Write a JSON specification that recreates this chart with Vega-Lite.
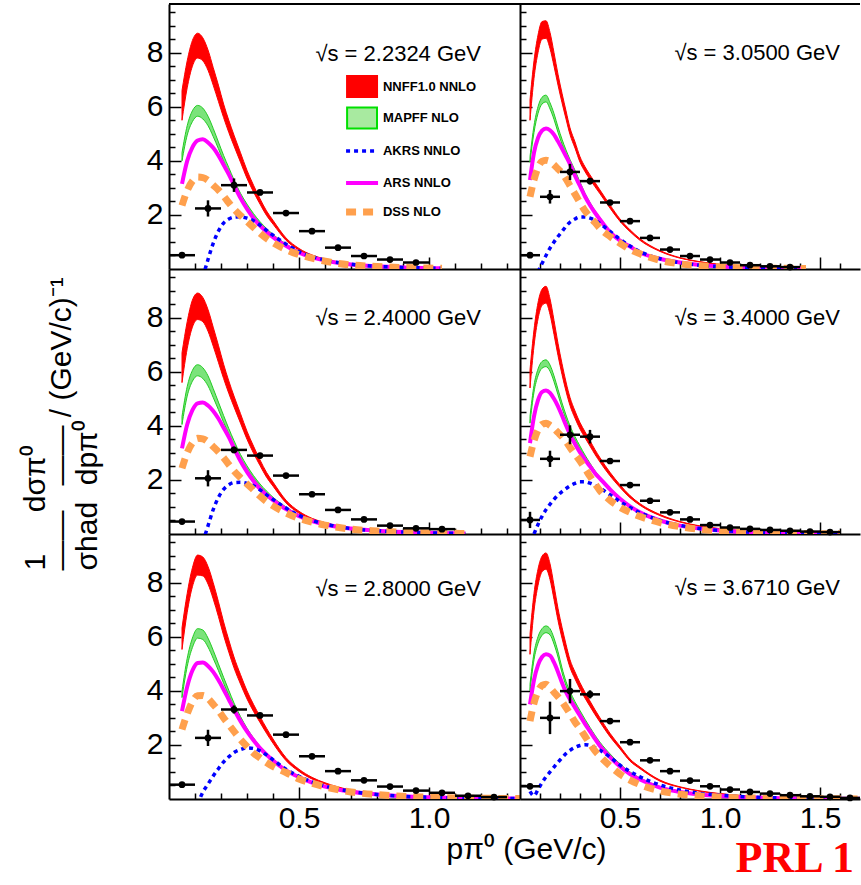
{
"$schema": "https://vega.github.io/schema/vega-lite/v6.json",
"padding": {"left": 20, "top": 3, "right": 0, "bottom": 0},
"background": "white",
"columns": 2,
"spacing": 0,
"bounds": "flush",
"align": "each",
"resolve": {"scale": {"x": "independent", "y": "independent"}, "axis": {"x": "independent", "y": "independent"}},
"datasets": {
"c": [
{"e":"2.2324","x":0.05,"nh":6.6,"nl":5.5,"mh":4.3,"ml":4.0,"a":null,"r":3.15,"d":2.35},
{"e":"2.2324","x":0.07,"nh":7.7,"nl":6.7,"mh":5.3,"ml":4.95,"a":null,"r":4.0,"d":2.9},
{"e":"2.2324","x":0.09,"nh":8.45,"nl":7.5,"mh":5.85,"ml":5.45,"a":null,"r":4.5,"d":3.25},
{"e":"2.2324","x":0.11,"nh":8.72,"nl":7.8,"mh":6.05,"ml":5.65,"a":null,"r":4.75,"d":3.4},
{"e":"2.2324","x":0.13,"nh":8.55,"nl":7.7,"mh":5.95,"ml":5.55,"a":-0.3,"r":4.8,"d":3.38},
{"e":"2.2324","x":0.15,"nh":8.1,"nl":7.35,"mh":5.65,"ml":5.3,"a":0.35,"r":4.68,"d":3.28},
{"e":"2.2324","x":0.17,"nh":7.45,"nl":6.8,"mh":5.2,"ml":4.9,"a":0.95,"r":4.48,"d":3.1},
{"e":"2.2324","x":0.19,"nh":6.8,"nl":6.2,"mh":4.7,"ml":4.45,"a":1.4,"r":4.2,"d":2.92},
{"e":"2.2324","x":0.21,"nh":6.1,"nl":5.6,"mh":4.2,"ml":3.98,"a":1.7,"r":3.85,"d":2.7},
{"e":"2.2324","x":0.23,"nh":5.5,"nl":5.05,"mh":3.75,"ml":3.55,"a":1.85,"r":3.5,"d":2.45},
{"e":"2.2324","x":0.25,"nh":4.95,"nl":4.55,"mh":3.3,"ml":3.15,"a":1.92,"r":3.1,"d":2.22},
{"e":"2.2324","x":0.275,"nh":4.3,"nl":3.95,"mh":2.8,"ml":2.68,"a":1.93,"r":2.62,"d":1.98},
{"e":"2.2324","x":0.3,"nh":3.65,"nl":3.35,"mh":2.4,"ml":2.3,"a":1.88,"r":2.22,"d":1.76},
{"e":"2.2324","x":0.325,"nh":3.1,"nl":2.85,"mh":2.05,"ml":1.96,"a":1.78,"r":1.88,"d":1.54},
{"e":"2.2324","x":0.35,"nh":2.6,"nl":2.4,"mh":1.75,"ml":1.68,"a":1.62,"r":1.6,"d":1.32},
{"e":"2.2324","x":0.375,"nh":2.15,"nl":1.98,"mh":1.5,"ml":1.44,"a":1.43,"r":1.38,"d":1.13},
{"e":"2.2324","x":0.4,"nh":1.8,"nl":1.66,"mh":1.28,"ml":1.23,"a":1.25,"r":1.18,"d":0.97},
{"e":"2.2324","x":0.45,"nh":1.15,"nl":1.06,"mh":0.93,"ml":0.89,"a":0.92,"r":0.86,"d":0.72},
{"e":"2.2324","x":0.5,"nh":0.76,"nl":0.7,"mh":0.65,"ml":0.62,"a":0.64,"r":0.6,"d":0.53},
{"e":"2.2324","x":0.55,"nh":0.52,"nl":0.48,"mh":0.46,"ml":0.44,"a":0.46,"r":0.43,"d":0.4},
{"e":"2.2324","x":0.6,"nh":0.37,"nl":0.34,"mh":0.33,"ml":0.32,"a":0.33,"r":0.31,"d":0.29},
{"e":"2.2324","x":0.7,"nh":0.2,"nl":0.18,"mh":0.18,"ml":0.17,"a":0.18,"r":0.17,"d":0.15},
{"e":"2.2324","x":0.8,"nh":0.11,"nl":0.1,"mh":0.1,"ml":0.095,"a":0.1,"r":0.1,"d":0.09},
{"e":"2.2324","x":0.9,"nh":0.065,"nl":0.06,"mh":0.06,"ml":0.055,"a":0.06,"r":0.06,"d":0.055},
{"e":"2.2324","x":1.0,"nh":0.04,"nl":0.035,"mh":0.035,"ml":0.03,"a":0.035,"r":0.035,"d":0.035},
{"e":"2.2324","x":1.05,"nh":0.03,"nl":0.025,"mh":0.025,"ml":0.02,"a":0.025,"r":0.025,"d":0.025},

{"e":"2.4000","x":0.05,"nh":6.7,"nl":5.6,"mh":4.35,"ml":4.05,"a":null,"r":3.17,"d":2.43},
{"e":"2.4000","x":0.07,"nh":7.85,"nl":6.85,"mh":5.45,"ml":5.1,"a":null,"r":4.05,"d":3.0},
{"e":"2.4000","x":0.09,"nh":8.65,"nl":7.65,"mh":6.05,"ml":5.65,"a":null,"r":4.58,"d":3.37},
{"e":"2.4000","x":0.11,"nh":8.91,"nl":7.93,"mh":6.26,"ml":5.85,"a":null,"r":4.83,"d":3.54},
{"e":"2.4000","x":0.13,"nh":8.75,"nl":7.85,"mh":6.15,"ml":5.75,"a":-0.3,"r":4.86,"d":3.52},
{"e":"2.4000","x":0.15,"nh":8.3,"nl":7.5,"mh":5.85,"ml":5.48,"a":0.3,"r":4.75,"d":3.41},
{"e":"2.4000","x":0.17,"nh":7.65,"nl":6.95,"mh":5.38,"ml":5.05,"a":0.9,"r":4.55,"d":3.23},
{"e":"2.4000","x":0.19,"nh":6.98,"nl":6.35,"mh":4.88,"ml":4.6,"a":1.35,"r":4.27,"d":3.04},
{"e":"2.4000","x":0.21,"nh":6.28,"nl":5.75,"mh":4.38,"ml":4.13,"a":1.65,"r":3.93,"d":2.82},
{"e":"2.4000","x":0.23,"nh":5.66,"nl":5.2,"mh":3.9,"ml":3.7,"a":1.82,"r":3.58,"d":2.57},
{"e":"2.4000","x":0.25,"nh":5.1,"nl":4.7,"mh":3.45,"ml":3.28,"a":1.9,"r":3.18,"d":2.33},
{"e":"2.4000","x":0.275,"nh":4.45,"nl":4.1,"mh":2.94,"ml":2.8,"a":1.91,"r":2.7,"d":2.08},
{"e":"2.4000","x":0.3,"nh":3.8,"nl":3.5,"mh":2.52,"ml":2.41,"a":1.87,"r":2.3,"d":1.85},
{"e":"2.4000","x":0.325,"nh":3.25,"nl":2.99,"mh":2.16,"ml":2.07,"a":1.78,"r":1.96,"d":1.63},
{"e":"2.4000","x":0.35,"nh":2.74,"nl":2.53,"mh":1.85,"ml":1.77,"a":1.63,"r":1.67,"d":1.4},
{"e":"2.4000","x":0.375,"nh":2.28,"nl":2.1,"mh":1.59,"ml":1.52,"a":1.45,"r":1.45,"d":1.2},
{"e":"2.4000","x":0.4,"nh":1.92,"nl":1.77,"mh":1.36,"ml":1.3,"a":1.28,"r":1.25,"d":1.04},
{"e":"2.4000","x":0.45,"nh":1.25,"nl":1.15,"mh":1.0,"ml":0.96,"a":0.96,"r":0.92,"d":0.78},
{"e":"2.4000","x":0.5,"nh":0.84,"nl":0.77,"mh":0.71,"ml":0.68,"a":0.69,"r":0.66,"d":0.58},
{"e":"2.4000","x":0.55,"nh":0.58,"nl":0.54,"mh":0.51,"ml":0.49,"a":0.5,"r":0.48,"d":0.44},
{"e":"2.4000","x":0.6,"nh":0.42,"nl":0.39,"mh":0.37,"ml":0.35,"a":0.37,"r":0.35,"d":0.33},
{"e":"2.4000","x":0.7,"nh":0.23,"nl":0.21,"mh":0.21,"ml":0.2,"a":0.2,"r":0.2,"d":0.18},
{"e":"2.4000","x":0.8,"nh":0.13,"nl":0.12,"mh":0.12,"ml":0.11,"a":0.12,"r":0.12,"d":0.11},
{"e":"2.4000","x":0.9,"nh":0.08,"nl":0.07,"mh":0.07,"ml":0.065,"a":0.07,"r":0.07,"d":0.065},
{"e":"2.4000","x":1.0,"nh":0.05,"nl":0.045,"mh":0.045,"ml":0.04,"a":0.045,"r":0.045,"d":0.04},
{"e":"2.4000","x":1.1,"nh":0.03,"nl":0.025,"mh":0.025,"ml":0.02,"a":0.025,"r":0.025,"d":0.025},
{"e":"2.4000","x":1.14,"nh":0.02,"nl":0.018,"mh":0.02,"ml":0.015,"a":0.02,"r":0.02,"d":0.02},

{"e":"2.8000","x":0.05,"nh":6.33,"nl":5.53,"mh":4.0,"ml":3.75,"a":null,"r":3.25,"d":2.57},
{"e":"2.8000","x":0.07,"nh":7.6,"nl":6.9,"mh":5.2,"ml":4.9,"a":null,"r":4.15,"d":3.15},
{"e":"2.8000","x":0.09,"nh":8.55,"nl":7.85,"mh":5.95,"ml":5.6,"a":null,"r":4.75,"d":3.6},
{"e":"2.8000","x":0.11,"nh":9.02,"nl":8.28,"mh":6.3,"ml":5.95,"a":-0.2,"r":5.03,"d":3.82},
{"e":"2.8000","x":0.13,"nh":8.95,"nl":8.25,"mh":6.25,"ml":5.9,"a":0.25,"r":5.05,"d":3.83},
{"e":"2.8000","x":0.15,"nh":8.6,"nl":7.95,"mh":5.95,"ml":5.62,"a":0.55,"r":4.92,"d":3.72},
{"e":"2.8000","x":0.17,"nh":8.0,"nl":7.4,"mh":5.5,"ml":5.2,"a":0.85,"r":4.7,"d":3.5},
{"e":"2.8000","x":0.19,"nh":7.3,"nl":6.75,"mh":5.0,"ml":4.75,"a":1.12,"r":4.4,"d":3.27},
{"e":"2.8000","x":0.21,"nh":6.55,"nl":6.05,"mh":4.5,"ml":4.28,"a":1.37,"r":4.05,"d":3.0},
{"e":"2.8000","x":0.23,"nh":5.88,"nl":5.43,"mh":4.02,"ml":3.83,"a":1.56,"r":3.68,"d":2.75},
{"e":"2.8000","x":0.25,"nh":5.25,"nl":4.85,"mh":3.55,"ml":3.39,"a":1.72,"r":3.31,"d":2.5},
{"e":"2.8000","x":0.275,"nh":4.6,"nl":4.25,"mh":3.05,"ml":2.92,"a":1.83,"r":2.88,"d":2.2},
{"e":"2.8000","x":0.3,"nh":4.0,"nl":3.7,"mh":2.62,"ml":2.51,"a":1.89,"r":2.5,"d":1.94},
{"e":"2.8000","x":0.325,"nh":3.5,"nl":3.24,"mh":2.26,"ml":2.17,"a":1.87,"r":2.17,"d":1.7},
{"e":"2.8000","x":0.35,"nh":3.05,"nl":2.83,"mh":1.95,"ml":1.87,"a":1.78,"r":1.88,"d":1.52},
{"e":"2.8000","x":0.375,"nh":2.62,"nl":2.43,"mh":1.7,"ml":1.63,"a":1.63,"r":1.64,"d":1.35},
{"e":"2.8000","x":0.4,"nh":2.22,"nl":2.06,"mh":1.48,"ml":1.42,"a":1.45,"r":1.42,"d":1.2},
{"e":"2.8000","x":0.45,"nh":1.53,"nl":1.42,"mh":1.1,"ml":1.06,"a":1.1,"r":1.06,"d":0.98},
{"e":"2.8000","x":0.5,"nh":1.1,"nl":1.02,"mh":0.83,"ml":0.8,"a":0.84,"r":0.81,"d":0.74},
{"e":"2.8000","x":0.55,"nh":0.8,"nl":0.74,"mh":0.62,"ml":0.6,"a":0.63,"r":0.61,"d":0.58},
{"e":"2.8000","x":0.6,"nh":0.6,"nl":0.56,"mh":0.47,"ml":0.45,"a":0.48,"r":0.46,"d":0.45},
{"e":"2.8000","x":0.7,"nh":0.33,"nl":0.31,"mh":0.28,"ml":0.27,"a":0.28,"r":0.27,"d":0.26},
{"e":"2.8000","x":0.8,"nh":0.19,"nl":0.18,"mh":0.17,"ml":0.16,"a":0.17,"r":0.17,"d":0.16},
{"e":"2.8000","x":0.9,"nh":0.12,"nl":0.11,"mh":0.1,"ml":0.1,"a":0.1,"r":0.1,"d":0.1},
{"e":"2.8000","x":1.0,"nh":0.075,"nl":0.07,"mh":0.065,"ml":0.06,"a":0.065,"r":0.065,"d":0.065},
{"e":"2.8000","x":1.1,"nh":0.05,"nl":0.045,"mh":0.045,"ml":0.04,"a":0.045,"r":0.045,"d":0.04},
{"e":"2.8000","x":1.2,"nh":0.03,"nl":0.028,"mh":0.03,"ml":0.025,"a":0.03,"r":0.03,"d":0.028},
{"e":"2.8000","x":1.35,"nh":0.02,"nl":0.018,"mh":0.02,"ml":0.015,"a":0.02,"r":0.02,"d":0.018},

{"e":"3.0500","x":0.05,"nh":6.25,"nl":5.5,"mh":4.15,"ml":3.95,"a":null,"r":3.29,"d":2.67},
{"e":"3.0500","x":0.07,"nh":7.7,"nl":7.05,"mh":5.3,"ml":5.05,"a":null,"r":4.3,"d":3.3},
{"e":"3.0500","x":0.09,"nh":8.65,"nl":8.0,"mh":6.0,"ml":5.75,"a":-0.1,"r":4.85,"d":3.75},
{"e":"3.0500","x":0.11,"nh":9.15,"nl":8.5,"mh":6.35,"ml":6.1,"a":0.2,"r":5.12,"d":3.98},
{"e":"3.0500","x":0.13,"nh":9.18,"nl":8.53,"mh":6.43,"ml":6.18,"a":0.5,"r":5.2,"d":4.02},
{"e":"3.0500","x":0.15,"nh":8.75,"nl":8.15,"mh":6.15,"ml":5.92,"a":0.77,"r":5.13,"d":3.98},
{"e":"3.0500","x":0.17,"nh":8.0,"nl":7.5,"mh":5.75,"ml":5.53,"a":1.0,"r":4.97,"d":3.85},
{"e":"3.0500","x":0.19,"nh":7.2,"nl":6.8,"mh":5.25,"ml":5.05,"a":1.2,"r":4.72,"d":3.7},
{"e":"3.0500","x":0.21,"nh":6.5,"nl":6.15,"mh":4.8,"ml":4.62,"a":1.38,"r":4.45,"d":3.55},
{"e":"3.0500","x":0.23,"nh":5.85,"nl":5.55,"mh":4.4,"ml":4.24,"a":1.58,"r":4.17,"d":3.33},
{"e":"3.0500","x":0.25,"nh":5.22,"nl":4.97,"mh":4.05,"ml":3.9,"a":1.73,"r":3.88,"d":3.08},
{"e":"3.0500","x":0.275,"nh":4.7,"nl":4.47,"mh":3.65,"ml":3.52,"a":1.85,"r":3.45,"d":2.77},
{"e":"3.0500","x":0.3,"nh":4.15,"nl":3.95,"mh":3.22,"ml":3.1,"a":1.92,"r":3.07,"d":2.45},
{"e":"3.0500","x":0.325,"nh":3.78,"nl":3.6,"mh":2.8,"ml":2.7,"a":1.92,"r":2.68,"d":2.15},
{"e":"3.0500","x":0.35,"nh":3.48,"nl":3.31,"mh":2.46,"ml":2.37,"a":1.88,"r":2.36,"d":1.92},
{"e":"3.0500","x":0.375,"nh":3.2,"nl":3.04,"mh":2.16,"ml":2.08,"a":1.8,"r":2.08,"d":1.72},
{"e":"3.0500","x":0.4,"nh":2.92,"nl":2.78,"mh":1.9,"ml":1.83,"a":1.68,"r":1.83,"d":1.5},
{"e":"3.0500","x":0.45,"nh":2.37,"nl":2.25,"mh":1.42,"ml":1.37,"a":1.39,"r":1.36,"d":1.2},
{"e":"3.0500","x":0.5,"nh":1.85,"nl":1.76,"mh":1.1,"ml":1.06,"a":1.1,"r":1.05,"d":0.95},
{"e":"3.0500","x":0.55,"nh":1.45,"nl":1.38,"mh":0.86,"ml":0.83,"a":0.85,"r":0.83,"d":0.72},
{"e":"3.0500","x":0.6,"nh":1.12,"nl":1.06,"mh":0.64,"ml":0.62,"a":0.64,"r":0.61,"d":0.56},
{"e":"3.0500","x":0.7,"nh":0.68,"nl":0.65,"mh":0.4,"ml":0.38,"a":0.38,"r":0.38,"d":0.32},
{"e":"3.0500","x":0.8,"nh":0.42,"nl":0.4,"mh":0.25,"ml":0.24,"a":0.23,"r":0.24,"d":0.19},
{"e":"3.0500","x":0.9,"nh":0.27,"nl":0.26,"mh":0.16,"ml":0.15,"a":0.14,"r":0.15,"d":0.12},
{"e":"3.0500","x":1.0,"nh":0.17,"nl":0.16,"mh":0.1,"ml":0.095,"a":0.09,"r":0.095,"d":0.08},
{"e":"3.0500","x":1.1,"nh":0.11,"nl":0.1,"mh":0.065,"ml":0.062,"a":0.06,"r":0.06,"d":0.05},
{"e":"3.0500","x":1.2,"nh":0.07,"nl":0.066,"mh":0.042,"ml":0.04,"a":0.04,"r":0.04,"d":0.035},
{"e":"3.0500","x":1.3,"nh":0.045,"nl":0.043,"mh":0.027,"ml":0.026,"a":0.025,"r":0.025,"d":0.025},
{"e":"3.0500","x":1.43,"nh":0.025,"nl":0.024,"mh":0.016,"ml":0.015,"a":0.015,"r":0.015,"d":0.015},

{"e":"3.4000","x":0.05,"nh":6.07,"nl":5.4,"mh":4.35,"ml":4.1,"a":null,"r":3.36,"d":2.86},
{"e":"3.4000","x":0.07,"nh":7.55,"nl":6.95,"mh":5.5,"ml":5.25,"a":0.0,"r":4.35,"d":3.45},
{"e":"3.4000","x":0.09,"nh":8.55,"nl":7.95,"mh":6.1,"ml":5.85,"a":0.35,"r":4.95,"d":3.85},
{"e":"3.4000","x":0.11,"nh":9.05,"nl":8.45,"mh":6.38,"ml":6.13,"a":0.65,"r":5.25,"d":4.05},
{"e":"3.4000","x":0.13,"nh":9.16,"nl":8.54,"mh":6.44,"ml":6.19,"a":0.9,"r":5.31,"d":4.1},
{"e":"3.4000","x":0.15,"nh":8.7,"nl":8.12,"mh":6.25,"ml":6.02,"a":1.1,"r":5.22,"d":4.02},
{"e":"3.4000","x":0.17,"nh":7.9,"nl":7.38,"mh":5.85,"ml":5.63,"a":1.28,"r":5.0,"d":3.9},
{"e":"3.4000","x":0.19,"nh":7.05,"nl":6.6,"mh":5.35,"ml":5.15,"a":1.44,"r":4.72,"d":3.75},
{"e":"3.4000","x":0.21,"nh":6.3,"nl":5.9,"mh":4.85,"ml":4.67,"a":1.57,"r":4.38,"d":3.6},
{"e":"3.4000","x":0.23,"nh":5.62,"nl":5.28,"mh":4.4,"ml":4.24,"a":1.68,"r":4.02,"d":3.42},
{"e":"3.4000","x":0.25,"nh":5.05,"nl":4.75,"mh":4.0,"ml":3.86,"a":1.78,"r":3.68,"d":3.2},
{"e":"3.4000","x":0.275,"nh":4.55,"nl":4.28,"mh":3.6,"ml":3.48,"a":1.87,"r":3.33,"d":2.95},
{"e":"3.4000","x":0.3,"nh":4.12,"nl":3.88,"mh":3.25,"ml":3.14,"a":1.93,"r":3.02,"d":2.7},
{"e":"3.4000","x":0.325,"nh":3.78,"nl":3.56,"mh":2.92,"ml":2.82,"a":1.93,"r":2.75,"d":2.42},
{"e":"3.4000","x":0.35,"nh":3.45,"nl":3.25,"mh":2.62,"ml":2.53,"a":1.88,"r":2.5,"d":2.13},
{"e":"3.4000","x":0.375,"nh":3.12,"nl":2.94,"mh":2.34,"ml":2.26,"a":1.8,"r":2.25,"d":1.86},
{"e":"3.4000","x":0.4,"nh":2.82,"nl":2.66,"mh":2.1,"ml":2.03,"a":1.7,"r":2.05,"d":1.6},
{"e":"3.4000","x":0.45,"nh":2.28,"nl":2.15,"mh":1.7,"ml":1.64,"a":1.45,"r":1.65,"d":1.25},
{"e":"3.4000","x":0.5,"nh":1.82,"nl":1.72,"mh":1.35,"ml":1.3,"a":1.2,"r":1.3,"d":0.99},
{"e":"3.4000","x":0.55,"nh":1.42,"nl":1.34,"mh":1.06,"ml":1.02,"a":0.98,"r":1.02,"d":0.8},
{"e":"3.4000","x":0.6,"nh":1.12,"nl":1.06,"mh":0.83,"ml":0.8,"a":0.79,"r":0.8,"d":0.65},
{"e":"3.4000","x":0.7,"nh":0.72,"nl":0.68,"mh":0.52,"ml":0.5,"a":0.5,"r":0.5,"d":0.42},
{"e":"3.4000","x":0.8,"nh":0.46,"nl":0.44,"mh":0.33,"ml":0.315,"a":0.32,"r":0.31,"d":0.27},
{"e":"3.4000","x":0.9,"nh":0.3,"nl":0.285,"mh":0.21,"ml":0.2,"a":0.2,"r":0.2,"d":0.17},
{"e":"3.4000","x":1.0,"nh":0.2,"nl":0.19,"mh":0.135,"ml":0.128,"a":0.13,"r":0.13,"d":0.11},
{"e":"3.4000","x":1.1,"nh":0.13,"nl":0.123,"mh":0.088,"ml":0.084,"a":0.085,"r":0.085,"d":0.07},
{"e":"3.4000","x":1.2,"nh":0.085,"nl":0.08,"mh":0.057,"ml":0.054,"a":0.055,"r":0.055,"d":0.045},
{"e":"3.4000","x":1.3,"nh":0.055,"nl":0.052,"mh":0.037,"ml":0.035,"a":0.035,"r":0.035,"d":0.03},
{"e":"3.4000","x":1.4,"nh":0.035,"nl":0.033,"mh":0.023,"ml":0.022,"a":0.022,"r":0.022,"d":0.02},
{"e":"3.4000","x":1.5,"nh":0.022,"nl":0.021,"mh":0.015,"ml":0.014,"a":0.014,"r":0.014,"d":0.013},
{"e":"3.4000","x":1.6,"nh":0.014,"nl":0.013,"mh":0.01,"ml":0.009,"a":0.009,"r":0.009,"d":0.009},

{"e":"3.6710","x":0.05,"nh":6.09,"nl":5.35,"mh":4.24,"ml":4.0,"a":0.28,"r":3.5,"d":2.88},
{"e":"3.6710","x":0.07,"nh":7.6,"nl":6.95,"mh":5.4,"ml":5.15,"a":0.12,"r":4.4,"d":3.55},
{"e":"3.6710","x":0.09,"nh":8.5,"nl":7.9,"mh":6.0,"ml":5.75,"a":0.35,"r":4.95,"d":3.98},
{"e":"3.6710","x":0.11,"nh":8.98,"nl":8.4,"mh":6.3,"ml":6.05,"a":0.6,"r":5.25,"d":4.2},
{"e":"3.6710","x":0.13,"nh":9.1,"nl":8.5,"mh":6.4,"ml":6.15,"a":0.82,"r":5.35,"d":4.24},
{"e":"3.6710","x":0.15,"nh":8.7,"nl":8.12,"mh":6.3,"ml":6.07,"a":1.0,"r":5.3,"d":4.12},
{"e":"3.6710","x":0.17,"nh":7.9,"nl":7.38,"mh":5.95,"ml":5.73,"a":1.18,"r":5.05,"d":3.95},
{"e":"3.6710","x":0.19,"nh":7.05,"nl":6.6,"mh":5.45,"ml":5.25,"a":1.36,"r":4.7,"d":3.78},
{"e":"3.6710","x":0.21,"nh":6.35,"nl":5.95,"mh":4.85,"ml":4.67,"a":1.52,"r":4.3,"d":3.6},
{"e":"3.6710","x":0.23,"nh":5.72,"nl":5.37,"mh":4.35,"ml":4.19,"a":1.68,"r":3.95,"d":3.38},
{"e":"3.6710","x":0.25,"nh":5.15,"nl":4.86,"mh":3.98,"ml":3.84,"a":1.8,"r":3.68,"d":3.15},
{"e":"3.6710","x":0.275,"nh":4.7,"nl":4.44,"mh":3.6,"ml":3.48,"a":1.91,"r":3.38,"d":2.85},
{"e":"3.6710","x":0.3,"nh":4.3,"nl":4.06,"mh":3.27,"ml":3.16,"a":1.98,"r":3.08,"d":2.6},
{"e":"3.6710","x":0.325,"nh":3.95,"nl":3.73,"mh":2.95,"ml":2.85,"a":2.01,"r":2.78,"d":2.32},
{"e":"3.6710","x":0.35,"nh":3.62,"nl":3.42,"mh":2.65,"ml":2.56,"a":1.98,"r":2.5,"d":2.04},
{"e":"3.6710","x":0.375,"nh":3.3,"nl":3.12,"mh":2.36,"ml":2.28,"a":1.9,"r":2.22,"d":1.78},
{"e":"3.6710","x":0.4,"nh":3.0,"nl":2.84,"mh":2.1,"ml":2.03,"a":1.8,"r":1.96,"d":1.58},
{"e":"3.6710","x":0.45,"nh":2.43,"nl":2.3,"mh":1.67,"ml":1.61,"a":1.55,"r":1.55,"d":1.22},
{"e":"3.6710","x":0.5,"nh":1.95,"nl":1.85,"mh":1.3,"ml":1.25,"a":1.25,"r":1.2,"d":0.92},
{"e":"3.6710","x":0.55,"nh":1.48,"nl":1.4,"mh":1.0,"ml":0.96,"a":1.02,"r":0.92,"d":0.7},
{"e":"3.6710","x":0.6,"nh":1.18,"nl":1.12,"mh":0.78,"ml":0.75,"a":0.82,"r":0.72,"d":0.53},
{"e":"3.6710","x":0.7,"nh":0.7,"nl":0.66,"mh":0.46,"ml":0.44,"a":0.52,"r":0.42,"d":0.3},
{"e":"3.6710","x":0.8,"nh":0.45,"nl":0.43,"mh":0.29,"ml":0.28,"a":0.33,"r":0.26,"d":0.18},
{"e":"3.6710","x":0.9,"nh":0.3,"nl":0.285,"mh":0.19,"ml":0.18,"a":0.21,"r":0.17,"d":0.11},
{"e":"3.6710","x":1.0,"nh":0.2,"nl":0.19,"mh":0.12,"ml":0.114,"a":0.14,"r":0.11,"d":0.07},
{"e":"3.6710","x":1.1,"nh":0.13,"nl":0.123,"mh":0.078,"ml":0.074,"a":0.09,"r":0.07,"d":0.045},
{"e":"3.6710","x":1.2,"nh":0.085,"nl":0.08,"mh":0.05,"ml":0.048,"a":0.06,"r":0.046,"d":0.03},
{"e":"3.6710","x":1.3,"nh":0.055,"nl":0.052,"mh":0.033,"ml":0.031,"a":0.04,"r":0.03,"d":0.02},
{"e":"3.6710","x":1.4,"nh":0.035,"nl":0.033,"mh":0.021,"ml":0.02,"a":0.025,"r":0.02,"d":0.013},
{"e":"3.6710","x":1.5,"nh":0.022,"nl":0.021,"mh":0.014,"ml":0.013,"a":0.016,"r":0.013,"d":0.009},
{"e":"3.6710","x":1.6,"nh":0.014,"nl":0.013,"mh":0.009,"ml":0.0085,"a":0.01,"r":0.009,"d":0.006},
{"e":"3.6710","x":1.7,"nh":0.009,"nl":0.008,"mh":0.006,"ml":0.0057,"a":0.007,"r":0.006,"d":0.004}
],
"d": [
{"e":"2.2324","x":0.05,"y":0.51,"xl":0.0,"xh":0.1,"yl":0.46,"yh":0.56},
{"e":"2.2324","x":0.15,"y":2.24,"xl":0.1,"xh":0.2,"yl":1.94,"yh":2.54},
{"e":"2.2324","x":0.25,"y":3.1,"xl":0.2,"xh":0.3,"yl":2.85,"yh":3.35},
{"e":"2.2324","x":0.35,"y":2.83,"xl":0.3,"xh":0.4,"yl":2.73,"yh":2.93},
{"e":"2.2324","x":0.45,"y":2.07,"xl":0.4,"xh":0.5,"yl":1.99,"yh":2.15},
{"e":"2.2324","x":0.55,"y":1.4,"xl":0.5,"xh":0.6,"yl":1.34,"yh":1.46},
{"e":"2.2324","x":0.65,"y":0.79,"xl":0.6,"xh":0.7,"yl":0.74,"yh":0.84},
{"e":"2.2324","x":0.75,"y":0.48,"xl":0.7,"xh":0.8,"yl":0.44,"yh":0.52},
{"e":"2.2324","x":0.85,"y":0.35,"xl":0.8,"xh":0.9,"yl":0.31,"yh":0.39},
{"e":"2.2324","x":0.95,"y":0.24,"xl":0.9,"xh":1.0,"yl":0.2,"yh":0.28},
{"e":"2.4000","x":0.05,"y":0.46,"xl":0.0,"xh":0.1,"yl":0.41,"yh":0.51},
{"e":"2.4000","x":0.15,"y":2.06,"xl":0.1,"xh":0.2,"yl":1.76,"yh":2.36},
{"e":"2.4000","x":0.25,"y":3.11,"xl":0.2,"xh":0.3,"yl":2.99,"yh":3.23},
{"e":"2.4000","x":0.35,"y":2.9,"xl":0.3,"xh":0.4,"yl":2.8,"yh":3.0},
{"e":"2.4000","x":0.45,"y":2.16,"xl":0.4,"xh":0.5,"yl":2.08,"yh":2.24},
{"e":"2.4000","x":0.55,"y":1.47,"xl":0.5,"xh":0.6,"yl":1.41,"yh":1.53},
{"e":"2.4000","x":0.65,"y":0.89,"xl":0.6,"xh":0.7,"yl":0.84,"yh":0.94},
{"e":"2.4000","x":0.75,"y":0.54,"xl":0.7,"xh":0.8,"yl":0.5,"yh":0.58},
{"e":"2.4000","x":0.85,"y":0.31,"xl":0.8,"xh":0.9,"yl":0.27,"yh":0.35},
{"e":"2.4000","x":0.95,"y":0.21,"xl":0.9,"xh":1.0,"yl":0.17,"yh":0.25},
{"e":"2.4000","x":1.05,"y":0.18,"xl":1.0,"xh":1.1,"yl":0.14,"yh":0.22},
{"e":"2.8000","x":0.05,"y":0.53,"xl":0.0,"xh":0.1,"yl":0.48,"yh":0.58},
{"e":"2.8000","x":0.15,"y":2.26,"xl":0.1,"xh":0.2,"yl":1.96,"yh":2.56},
{"e":"2.8000","x":0.25,"y":3.31,"xl":0.2,"xh":0.3,"yl":3.16,"yh":3.46},
{"e":"2.8000","x":0.35,"y":3.09,"xl":0.3,"xh":0.4,"yl":2.99,"yh":3.19},
{"e":"2.8000","x":0.45,"y":2.38,"xl":0.4,"xh":0.5,"yl":2.3,"yh":2.46},
{"e":"2.8000","x":0.55,"y":1.58,"xl":0.5,"xh":0.6,"yl":1.52,"yh":1.64},
{"e":"2.8000","x":0.65,"y":1.03,"xl":0.6,"xh":0.7,"yl":0.98,"yh":1.08},
{"e":"2.8000","x":0.75,"y":0.69,"xl":0.7,"xh":0.8,"yl":0.65,"yh":0.73},
{"e":"2.8000","x":0.85,"y":0.46,"xl":0.8,"xh":0.9,"yl":0.42,"yh":0.5},
{"e":"2.8000","x":0.95,"y":0.31,"xl":0.9,"xh":1.0,"yl":0.27,"yh":0.35},
{"e":"2.8000","x":1.05,"y":0.23,"xl":1.0,"xh":1.1,"yl":0.19,"yh":0.27},
{"e":"2.8000","x":1.15,"y":0.12,"xl":1.1,"xh":1.2,"yl":0.08,"yh":0.16},
{"e":"2.8000","x":1.25,"y":0.07,"xl":1.2,"xh":1.3,"yl":0.03,"yh":0.11},
{"e":"3.0500","x":0.05,"y":0.51,"xl":0.0,"xh":0.1,"yl":0.46,"yh":0.56},
{"e":"3.0500","x":0.15,"y":2.67,"xl":0.1,"xh":0.2,"yl":2.42,"yh":2.92},
{"e":"3.0500","x":0.25,"y":3.59,"xl":0.2,"xh":0.3,"yl":3.29,"yh":3.89},
{"e":"3.0500","x":0.35,"y":3.25,"xl":0.3,"xh":0.4,"yl":3.13,"yh":3.37},
{"e":"3.0500","x":0.45,"y":2.46,"xl":0.4,"xh":0.5,"yl":2.38,"yh":2.54},
{"e":"3.0500","x":0.55,"y":1.77,"xl":0.5,"xh":0.6,"yl":1.71,"yh":1.83},
{"e":"3.0500","x":0.65,"y":1.15,"xl":0.6,"xh":0.7,"yl":1.1,"yh":1.2},
{"e":"3.0500","x":0.75,"y":0.72,"xl":0.7,"xh":0.8,"yl":0.68,"yh":0.76},
{"e":"3.0500","x":0.85,"y":0.48,"xl":0.8,"xh":0.9,"yl":0.44,"yh":0.52},
{"e":"3.0500","x":0.95,"y":0.35,"xl":0.9,"xh":1.0,"yl":0.31,"yh":0.39},
{"e":"3.0500","x":1.05,"y":0.24,"xl":1.0,"xh":1.1,"yl":0.2,"yh":0.28},
{"e":"3.0500","x":1.15,"y":0.14,"xl":1.1,"xh":1.2,"yl":0.1,"yh":0.18},
{"e":"3.0500","x":1.25,"y":0.1,"xl":1.2,"xh":1.3,"yl":0.06,"yh":0.14},
{"e":"3.0500","x":1.35,"y":0.07,"xl":1.3,"xh":1.4,"yl":0.03,"yh":0.11},
{"e":"3.4000","x":0.05,"y":0.52,"xl":0.0,"xh":0.1,"yl":0.22,"yh":0.82},
{"e":"3.4000","x":0.15,"y":2.78,"xl":0.1,"xh":0.2,"yl":2.48,"yh":3.08},
{"e":"3.4000","x":0.25,"y":3.67,"xl":0.2,"xh":0.3,"yl":3.32,"yh":4.02},
{"e":"3.4000","x":0.35,"y":3.6,"xl":0.3,"xh":0.4,"yl":3.35,"yh":3.85},
{"e":"3.4000","x":0.45,"y":2.7,"xl":0.4,"xh":0.5,"yl":2.6,"yh":2.8},
{"e":"3.4000","x":0.55,"y":1.81,"xl":0.5,"xh":0.6,"yl":1.73,"yh":1.89},
{"e":"3.4000","x":0.65,"y":1.23,"xl":0.6,"xh":0.7,"yl":1.17,"yh":1.29},
{"e":"3.4000","x":0.75,"y":0.8,"xl":0.7,"xh":0.8,"yl":0.75,"yh":0.85},
{"e":"3.4000","x":0.85,"y":0.54,"xl":0.8,"xh":0.9,"yl":0.5,"yh":0.58},
{"e":"3.4000","x":0.95,"y":0.33,"xl":0.9,"xh":1.0,"yl":0.29,"yh":0.37},
{"e":"3.4000","x":1.05,"y":0.24,"xl":1.0,"xh":1.1,"yl":0.2,"yh":0.28},
{"e":"3.4000","x":1.15,"y":0.19,"xl":1.1,"xh":1.2,"yl":0.15,"yh":0.23},
{"e":"3.4000","x":1.25,"y":0.15,"xl":1.2,"xh":1.3,"yl":0.11,"yh":0.19},
{"e":"3.4000","x":1.35,"y":0.12,"xl":1.3,"xh":1.4,"yl":0.08,"yh":0.16},
{"e":"3.4000","x":1.45,"y":0.09,"xl":1.4,"xh":1.5,"yl":0.05,"yh":0.13},
{"e":"3.4000","x":1.55,"y":0.07,"xl":1.5,"xh":1.6,"yl":0.03,"yh":0.11},
{"e":"3.6710","x":0.05,"y":0.47,"xl":0.0,"xh":0.1,"yl":0.37,"yh":0.57},
{"e":"3.6710","x":0.15,"y":3.0,"xl":0.1,"xh":0.2,"yl":2.4,"yh":3.6},
{"e":"3.6710","x":0.25,"y":3.99,"xl":0.2,"xh":0.3,"yl":3.54,"yh":4.44},
{"e":"3.6710","x":0.35,"y":3.87,"xl":0.3,"xh":0.4,"yl":3.72,"yh":4.02},
{"e":"3.6710","x":0.45,"y":2.88,"xl":0.4,"xh":0.5,"yl":2.78,"yh":2.98},
{"e":"3.6710","x":0.55,"y":2.1,"xl":0.5,"xh":0.6,"yl":2.02,"yh":2.18},
{"e":"3.6710","x":0.65,"y":1.43,"xl":0.6,"xh":0.7,"yl":1.37,"yh":1.49},
{"e":"3.6710","x":0.75,"y":1.03,"xl":0.7,"xh":0.8,"yl":0.98,"yh":1.08},
{"e":"3.6710","x":0.85,"y":0.68,"xl":0.8,"xh":0.9,"yl":0.64,"yh":0.72},
{"e":"3.6710","x":0.95,"y":0.47,"xl":0.9,"xh":1.0,"yl":0.43,"yh":0.51},
{"e":"3.6710","x":1.05,"y":0.35,"xl":1.0,"xh":1.1,"yl":0.31,"yh":0.39},
{"e":"3.6710","x":1.15,"y":0.26,"xl":1.1,"xh":1.2,"yl":0.22,"yh":0.3},
{"e":"3.6710","x":1.25,"y":0.2,"xl":1.2,"xh":1.3,"yl":0.16,"yh":0.24},
{"e":"3.6710","x":1.35,"y":0.14,"xl":1.3,"xh":1.4,"yl":0.1,"yh":0.18},
{"e":"3.6710","x":1.45,"y":0.1,"xl":1.4,"xh":1.5,"yl":0.06,"yh":0.14},
{"e":"3.6710","x":1.55,"y":0.08,"xl":1.5,"xh":1.6,"yl":0.04,"yh":0.12},
{"e":"3.6710","x":1.65,"y":0.04,"xl":1.6,"xh":1.7,"yl":0.0,"yh":0.08}
]
},
"concat": [
{
 "width": 351, "height": 265,
 "resolve": {"axis": {"x": "independent", "y": "independent"}},
 "layer": [
  {"data":{"name":"c"},"transform":[{"filter":"datum.e == '2.2324'"}],
   "mark":{"type":"area","interpolate":"monotone","clip":true,"stroke":"#ff0000","strokeWidth":1,"fill":"#ff0000"},
   "encoding":{
    "x":{"field":"x","type":"quantitative","scale":{"domain":[0,1.35],"nice":false,"zero":false},
     "axis":{"orient":"bottom","values":[0.5,1],"labels":false,"title":null,"tickSize":-12}},
    "y":{"field":"nh","type":"quantitative","scale":{"domain":[0,9.8],"nice":false,"zero":false},
     "axis":{"orient":"left","values":[2,4,6,8],"title":null,"tickSize":-12,"format":"d","labelPadding":18}},
    "y2":{"field":"nl"}}},
  {"data":{"name":"c"},"transform":[{"filter":"datum.e == '2.2324'"}],
   "mark":{"type":"area","interpolate":"monotone","clip":true,"stroke":"#22cc22","strokeWidth":1,"fill":"#7be37b"},
   "encoding":{"x":{"field":"x","type":"quantitative","scale":{"domain":[0,1.35],"nice":false,"zero":false},
     "axis":{"orient":"bottom","values":[0.1,0.2,0.3,0.4,0.6,0.7,0.8,0.9,1.1,1.2,1.3],"labels":false,"title":null,"tickSize":-6,"domain":false}},
    "y":{"field":"mh","type":"quantitative","scale":{"domain":[0,9.8],"nice":false,"zero":false},
     "axis":{"orient":"left","values":[0.5,1,1.5,2.5,3,3.5,4.5,5,5.5,6.5,7,7.5,8.5,9,9.5],"labels":false,"title":null,"tickSize":-6,"domain":false}},"y2":{"field":"ml"}}},
  {"data":{"name":"c"},"transform":[{"filter":"datum.e == '2.2324'"}],
   "mark":{"type":"line","interpolate":"monotone","clip":true,"strokeWidth":4,"color":"#ff00ff"},
   "encoding":{"x":{"field":"x","type":"quantitative","scale":{"domain":[0,1.35],"nice":false,"zero":false},"axis":null},
    "y":{"field":"r","type":"quantitative","scale":{"domain":[0,9.8],"nice":false,"zero":false},"axis":null}}},
  {"data":{"name":"c"},"transform":[{"filter":"datum.e == '2.2324'"}],
   "mark":{"type":"line","interpolate":"monotone","clip":true,"strokeWidth":3.5,"strokeDash":[4,4],"color":"#0000ff"},
   "encoding":{"x":{"field":"x","type":"quantitative","scale":{"domain":[0,1.35],"nice":false,"zero":false},"axis":null},
    "y":{"field":"a","type":"quantitative","scale":{"domain":[0,9.8],"nice":false,"zero":false},"axis":null}}},
  {"data":{"name":"c"},"transform":[{"filter":"datum.e == '2.2324'"}],
   "mark":{"type":"line","interpolate":"monotone","clip":true,"strokeWidth":7,"strokeDash":[10,7],"color":"#ffa04d"},
   "encoding":{"x":{"field":"x","type":"quantitative","scale":{"domain":[0,1.35],"nice":false,"zero":false},"axis":null},
    "y":{"field":"d","type":"quantitative","scale":{"domain":[0,9.8],"nice":false,"zero":false},"axis":null}}},
  {"data":{"name":"d"},"transform":[{"filter":"datum.e == '2.2324'"}],
   "mark":{"type":"rule","color":"black","strokeWidth":2.5},
   "encoding":{"x":{"field":"xl","type":"quantitative","scale":{"domain":[0,1.35],"nice":false,"zero":false},"axis":null},"x2":{"field":"xh"},
    "y":{"field":"y","type":"quantitative","scale":{"domain":[0,9.8],"nice":false,"zero":false},"axis":null}}},
  {"data":{"name":"d"},"transform":[{"filter":"datum.e == '2.2324'"}],
   "mark":{"type":"rule","color":"black","strokeWidth":2.5},
   "encoding":{"x":{"field":"x","type":"quantitative","scale":{"domain":[0,1.35],"nice":false,"zero":false},"axis":null},
    "y":{"field":"yl","type":"quantitative","scale":{"domain":[0,9.8],"nice":false,"zero":false},"axis":null},"y2":{"field":"yh"}}},
  {"data":{"name":"d"},"transform":[{"filter":"datum.e == '2.2324'"}],
   "mark":{"type":"circle","size":45,"color":"black","opacity":1},
   "encoding":{"x":{"field":"x","type":"quantitative","scale":{"domain":[0,1.35],"nice":false,"zero":false},"axis":null},
    "y":{"field":"y","type":"quantitative","scale":{"domain":[0,9.8],"nice":false,"zero":false},"axis":null}}},
  {"data":{"values":[{"t":"√s = 2.2324 GeV"}]},
   "mark":{"type":"text","align":"right","baseline":"middle","fontSize":22,"font":"Liberation Sans","color":"black"},
   "encoding":{"text":{"field":"t"},"x":{"datum":1.2,"type":"quantitative","scale":{"domain":[0,1.35],"nice":false,"zero":false},"axis":null},
    "y":{"datum":7.95,"type":"quantitative","scale":{"domain":[0,9.8],"nice":false,"zero":false},"axis":null}}},
  {"data":{"values":[{}]},"mark":{"type":"rect","fill":"#ff0000"},
   "encoding":{"x":{"datum":0.681,"type":"quantitative","scale":{"domain":[0,1.35],"nice":false,"zero":false},"axis":null},"x2":{"datum":0.804},
    "y":{"datum":7.17,"type":"quantitative","scale":{"domain":[0,9.8],"nice":false,"zero":false},"axis":null},"y2":{"datum":6.32}}},
  {"data":{"values":[{}]},"mark":{"type":"rect","fill":"#a8eaa0","stroke":"#00e000","strokeWidth":2},
   "encoding":{"x":{"datum":0.685,"type":"quantitative","scale":{"domain":[0,1.35],"nice":false,"zero":false},"axis":null},"x2":{"datum":0.8},
    "y":{"datum":5.97,"type":"quantitative","scale":{"domain":[0,9.8],"nice":false,"zero":false},"axis":null},"y2":{"datum":5.2}}},
  {"data":{"values":[{}]},"mark":{"type":"rule","color":"#0000ff","strokeWidth":3.5,"strokeDash":[4,4]},
   "encoding":{"x":{"datum":0.681,"type":"quantitative","scale":{"domain":[0,1.35],"nice":false,"zero":false},"axis":null},"x2":{"datum":0.804},
    "y":{"datum":4.36,"type":"quantitative","scale":{"domain":[0,9.8],"nice":false,"zero":false},"axis":null}}},
  {"data":{"values":[{}]},"mark":{"type":"rule","color":"#ff00ff","strokeWidth":4},
   "encoding":{"x":{"datum":0.681,"type":"quantitative","scale":{"domain":[0,1.35],"nice":false,"zero":false},"axis":null},"x2":{"datum":0.804},
    "y":{"datum":3.18,"type":"quantitative","scale":{"domain":[0,9.8],"nice":false,"zero":false},"axis":null}}},
  {"data":{"values":[{}]},"mark":{"type":"rule","color":"#ffa04d","strokeWidth":7,"strokeDash":[10,7]},
   "encoding":{"x":{"datum":0.681,"type":"quantitative","scale":{"domain":[0,1.35],"nice":false,"zero":false},"axis":null},"x2":{"datum":0.804},
    "y":{"datum":2.11,"type":"quantitative","scale":{"domain":[0,9.8],"nice":false,"zero":false},"axis":null}}},
  {"data":{"values":[{"t":"NNFF1.0 NNLO"}]},"mark":{"type":"text","align":"left","baseline":"middle","fontSize":13,"fontWeight":"bold","font":"Liberation Sans","color":"black"},
   "encoding":{"text":{"field":"t"},"x":{"datum":0.823,"type":"quantitative","scale":{"domain":[0,1.35],"nice":false,"zero":false},"axis":null},
    "y":{"datum":6.73,"type":"quantitative","scale":{"domain":[0,9.8],"nice":false,"zero":false},"axis":null}}},
  {"data":{"values":[{"t":"MAPFF NLO"}]},"mark":{"type":"text","align":"left","baseline":"middle","fontSize":13,"fontWeight":"bold","font":"Liberation Sans","color":"black"},
   "encoding":{"text":{"field":"t"},"x":{"datum":0.823,"type":"quantitative","scale":{"domain":[0,1.35],"nice":false,"zero":false},"axis":null},
    "y":{"datum":5.58,"type":"quantitative","scale":{"domain":[0,9.8],"nice":false,"zero":false},"axis":null}}},
  {"data":{"values":[{"t":"AKRS NNLO"}]},"mark":{"type":"text","align":"left","baseline":"middle","fontSize":13,"fontWeight":"bold","font":"Liberation Sans","color":"black"},
   "encoding":{"text":{"field":"t"},"x":{"datum":0.823,"type":"quantitative","scale":{"domain":[0,1.35],"nice":false,"zero":false},"axis":null},
    "y":{"datum":4.36,"type":"quantitative","scale":{"domain":[0,9.8],"nice":false,"zero":false},"axis":null}}},
  {"data":{"values":[{"t":"ARS NNLO"}]},"mark":{"type":"text","align":"left","baseline":"middle","fontSize":13,"fontWeight":"bold","font":"Liberation Sans","color":"black"},
   "encoding":{"text":{"field":"t"},"x":{"datum":0.823,"type":"quantitative","scale":{"domain":[0,1.35],"nice":false,"zero":false},"axis":null},
    "y":{"datum":3.18,"type":"quantitative","scale":{"domain":[0,9.8],"nice":false,"zero":false},"axis":null}}},
  {"data":{"values":[{"t":"DSS  NLO"}]},"mark":{"type":"text","align":"left","baseline":"middle","fontSize":13,"fontWeight":"bold","font":"Liberation Sans","color":"black"},
   "encoding":{"text":{"field":"t"},"x":{"datum":0.823,"type":"quantitative","scale":{"domain":[0,1.35],"nice":false,"zero":false},"axis":null},
    "y":{"datum":2.11,"type":"quantitative","scale":{"domain":[0,9.8],"nice":false,"zero":false},"axis":null}}},
  {"data":{"values":[{}]},"mark":{"type":"rule","color":"black","strokeWidth":2},
   "encoding":{"y":{"datum":9.8,"type":"quantitative","scale":{"domain":[0,9.8],"nice":false,"zero":false},"axis":null}}}
 ]
},
{
 "width": 340, "height": 265,
 "resolve": {"axis": {"x": "independent", "y": "independent"}},
 "layer": [
  {"data":{"name":"c"},"transform":[{"filter":"datum.e == '3.0500'"}],
   "mark":{"type":"area","interpolate":"monotone","clip":true,"stroke":"#ff0000","strokeWidth":1,"fill":"#ff0000"},
   "encoding":{
    "x":{"field":"x","type":"quantitative","scale":{"domain":[0,1.7],"nice":false,"zero":false},
     "axis":{"orient":"bottom","values":[0.5,1,1.5],"labels":false,"title":null,"tickSize":-12}},
    "y":{"field":"nh","type":"quantitative","scale":{"domain":[0,9.8],"nice":false,"zero":false},
     "axis":{"orient":"left","values":[2,4,6,8],"title":null,"labels":false,"tickSize":-12}},
    "y2":{"field":"nl"}}},
  {"data":{"name":"c"},"transform":[{"filter":"datum.e == '3.0500'"}],
   "mark":{"type":"area","interpolate":"monotone","clip":true,"stroke":"#22cc22","strokeWidth":1,"fill":"#7be37b"},
   "encoding":{"x":{"field":"x","type":"quantitative","scale":{"domain":[0,1.7],"nice":false,"zero":false},
     "axis":{"orient":"bottom","values":[0.1,0.2,0.3,0.4,0.6,0.7,0.8,0.9,1.1,1.2,1.3,1.4,1.6],"labels":false,"title":null,"tickSize":-6,"domain":false}},
    "y":{"field":"mh","type":"quantitative","scale":{"domain":[0,9.8],"nice":false,"zero":false},
     "axis":{"orient":"left","values":[0.5,1,1.5,2.5,3,3.5,4.5,5,5.5,6.5,7,7.5,8.5,9,9.5],"labels":false,"title":null,"tickSize":-6,"domain":false}},"y2":{"field":"ml"}}},
  {"data":{"name":"c"},"transform":[{"filter":"datum.e == '3.0500'"}],
   "mark":{"type":"line","interpolate":"monotone","clip":true,"strokeWidth":4,"color":"#ff00ff"},
   "encoding":{"x":{"field":"x","type":"quantitative","scale":{"domain":[0,1.7],"nice":false,"zero":false},"axis":null},
    "y":{"field":"r","type":"quantitative","scale":{"domain":[0,9.8],"nice":false,"zero":false},"axis":null}}},
  {"data":{"name":"c"},"transform":[{"filter":"datum.e == '3.0500'"}],
   "mark":{"type":"line","interpolate":"monotone","clip":true,"strokeWidth":3.5,"strokeDash":[4,4],"color":"#0000ff"},
   "encoding":{"x":{"field":"x","type":"quantitative","scale":{"domain":[0,1.7],"nice":false,"zero":false},"axis":null},
    "y":{"field":"a","type":"quantitative","scale":{"domain":[0,9.8],"nice":false,"zero":false},"axis":null}}},
  {"data":{"name":"c"},"transform":[{"filter":"datum.e == '3.0500'"}],
   "mark":{"type":"line","interpolate":"monotone","clip":true,"strokeWidth":7,"strokeDash":[10,7],"color":"#ffa04d"},
   "encoding":{"x":{"field":"x","type":"quantitative","scale":{"domain":[0,1.7],"nice":false,"zero":false},"axis":null},
    "y":{"field":"d","type":"quantitative","scale":{"domain":[0,9.8],"nice":false,"zero":false},"axis":null}}},
  {"data":{"name":"d"},"transform":[{"filter":"datum.e == '3.0500'"}],
   "mark":{"type":"rule","color":"black","strokeWidth":2.5},
   "encoding":{"x":{"field":"xl","type":"quantitative","scale":{"domain":[0,1.7],"nice":false,"zero":false},"axis":null},"x2":{"field":"xh"},
    "y":{"field":"y","type":"quantitative","scale":{"domain":[0,9.8],"nice":false,"zero":false},"axis":null}}},
  {"data":{"name":"d"},"transform":[{"filter":"datum.e == '3.0500'"}],
   "mark":{"type":"rule","color":"black","strokeWidth":2.5},
   "encoding":{"x":{"field":"x","type":"quantitative","scale":{"domain":[0,1.7],"nice":false,"zero":false},"axis":null},
    "y":{"field":"yl","type":"quantitative","scale":{"domain":[0,9.8],"nice":false,"zero":false},"axis":null},"y2":{"field":"yh"}}},
  {"data":{"name":"d"},"transform":[{"filter":"datum.e == '3.0500'"}],
   "mark":{"type":"circle","size":45,"color":"black","opacity":1},
   "encoding":{"x":{"field":"x","type":"quantitative","scale":{"domain":[0,1.7],"nice":false,"zero":false},"axis":null},
    "y":{"field":"y","type":"quantitative","scale":{"domain":[0,9.8],"nice":false,"zero":false},"axis":null}}},
  {"data":{"values":[{"t":"√s = 3.0500 GeV"}]},
   "mark":{"type":"text","align":"right","baseline":"middle","fontSize":22,"font":"Liberation Sans","color":"black"},
   "encoding":{"text":{"field":"t"},"x":{"datum":1.6,"type":"quantitative","scale":{"domain":[0,1.7],"nice":false,"zero":false},"axis":null},
    "y":{"datum":7.99,"type":"quantitative","scale":{"domain":[0,9.8],"nice":false,"zero":false},"axis":null}}},
  {"data":{"values":[{}]},"mark":{"type":"rule","color":"black","strokeWidth":2},
   "encoding":{"y":{"datum":9.8,"type":"quantitative","scale":{"domain":[0,9.8],"nice":false,"zero":false},"axis":null}}}
 ]
},
{
 "width": 351, "height": 265,
 "resolve": {"axis": {"x": "independent", "y": "independent"}},
 "layer": [
  {"data":{"name":"c"},"transform":[{"filter":"datum.e == '2.4000'"}],
   "mark":{"type":"area","interpolate":"monotone","clip":true,"stroke":"#ff0000","strokeWidth":1,"fill":"#ff0000"},
   "encoding":{
    "x":{"field":"x","type":"quantitative","scale":{"domain":[0,1.35],"nice":false,"zero":false},
     "axis":{"orient":"bottom","values":[0.5,1],"labels":false,"title":null,"tickSize":-12}},
    "y":{"field":"nh","type":"quantitative","scale":{"domain":[0,9.8],"nice":false,"zero":false},
     "axis":{"orient":"left","values":[2,4,6,8],"tickSize":-12,"format":"d","labelPadding":18,
      "title":["\u00a0\u00a0\u00a01\u00a0\u00a0\u00a0\u00a0\u00a0dσπ⁰","——\u00a0\u00a0\u00a0——\u00a0/ (GeV/c)⁻¹","σhad\u00a0\u00a0dpπ⁰"],
      "titleFontSize":30,"titleFont":"Liberation Sans","titleFontWeight":"normal","titleAngle":-90,"titleAlign":"left","titleBaseline":"top",
      "titleX":-149,"titleY":301,"titleLineHeight":26}},
    "y2":{"field":"nl"}}},
  {"data":{"name":"c"},"transform":[{"filter":"datum.e == '2.4000'"}],
   "mark":{"type":"area","interpolate":"monotone","clip":true,"stroke":"#22cc22","strokeWidth":1,"fill":"#7be37b"},
   "encoding":{"x":{"field":"x","type":"quantitative","scale":{"domain":[0,1.35],"nice":false,"zero":false},
     "axis":{"orient":"bottom","values":[0.1,0.2,0.3,0.4,0.6,0.7,0.8,0.9,1.1,1.2,1.3],"labels":false,"title":null,"tickSize":-6,"domain":false}},
    "y":{"field":"mh","type":"quantitative","scale":{"domain":[0,9.8],"nice":false,"zero":false},
     "axis":{"orient":"left","values":[0.5,1,1.5,2.5,3,3.5,4.5,5,5.5,6.5,7,7.5,8.5,9,9.5],"labels":false,"title":null,"tickSize":-6,"domain":false}},"y2":{"field":"ml"}}},
  {"data":{"name":"c"},"transform":[{"filter":"datum.e == '2.4000'"}],
   "mark":{"type":"line","interpolate":"monotone","clip":true,"strokeWidth":4,"color":"#ff00ff"},
   "encoding":{"x":{"field":"x","type":"quantitative","scale":{"domain":[0,1.35],"nice":false,"zero":false},"axis":null},
    "y":{"field":"r","type":"quantitative","scale":{"domain":[0,9.8],"nice":false,"zero":false},"axis":null}}},
  {"data":{"name":"c"},"transform":[{"filter":"datum.e == '2.4000'"}],
   "mark":{"type":"line","interpolate":"monotone","clip":true,"strokeWidth":3.5,"strokeDash":[4,4],"color":"#0000ff"},
   "encoding":{"x":{"field":"x","type":"quantitative","scale":{"domain":[0,1.35],"nice":false,"zero":false},"axis":null},
    "y":{"field":"a","type":"quantitative","scale":{"domain":[0,9.8],"nice":false,"zero":false},"axis":null}}},
  {"data":{"name":"c"},"transform":[{"filter":"datum.e == '2.4000'"}],
   "mark":{"type":"line","interpolate":"monotone","clip":true,"strokeWidth":7,"strokeDash":[10,7],"color":"#ffa04d"},
   "encoding":{"x":{"field":"x","type":"quantitative","scale":{"domain":[0,1.35],"nice":false,"zero":false},"axis":null},
    "y":{"field":"d","type":"quantitative","scale":{"domain":[0,9.8],"nice":false,"zero":false},"axis":null}}},
  {"data":{"name":"d"},"transform":[{"filter":"datum.e == '2.4000'"}],
   "mark":{"type":"rule","color":"black","strokeWidth":2.5},
   "encoding":{"x":{"field":"xl","type":"quantitative","scale":{"domain":[0,1.35],"nice":false,"zero":false},"axis":null},"x2":{"field":"xh"},
    "y":{"field":"y","type":"quantitative","scale":{"domain":[0,9.8],"nice":false,"zero":false},"axis":null}}},
  {"data":{"name":"d"},"transform":[{"filter":"datum.e == '2.4000'"}],
   "mark":{"type":"rule","color":"black","strokeWidth":2.5},
   "encoding":{"x":{"field":"x","type":"quantitative","scale":{"domain":[0,1.35],"nice":false,"zero":false},"axis":null},
    "y":{"field":"yl","type":"quantitative","scale":{"domain":[0,9.8],"nice":false,"zero":false},"axis":null},"y2":{"field":"yh"}}},
  {"data":{"name":"d"},"transform":[{"filter":"datum.e == '2.4000'"}],
   "mark":{"type":"circle","size":45,"color":"black","opacity":1},
   "encoding":{"x":{"field":"x","type":"quantitative","scale":{"domain":[0,1.35],"nice":false,"zero":false},"axis":null},
    "y":{"field":"y","type":"quantitative","scale":{"domain":[0,9.8],"nice":false,"zero":false},"axis":null}}},
  {"data":{"values":[{"t":"√s = 2.4000 GeV"}]},
   "mark":{"type":"text","align":"right","baseline":"middle","fontSize":22,"font":"Liberation Sans","color":"black"},
   "encoding":{"text":{"field":"t"},"x":{"datum":1.2,"type":"quantitative","scale":{"domain":[0,1.35],"nice":false,"zero":false},"axis":null},
    "y":{"datum":7.99,"type":"quantitative","scale":{"domain":[0,9.8],"nice":false,"zero":false},"axis":null}}}
 ]
},
{
 "width": 340, "height": 265,
 "resolve": {"axis": {"x": "independent", "y": "independent"}},
 "layer": [
  {"data":{"name":"c"},"transform":[{"filter":"datum.e == '3.4000'"}],
   "mark":{"type":"area","interpolate":"monotone","clip":true,"stroke":"#ff0000","strokeWidth":1,"fill":"#ff0000"},
   "encoding":{
    "x":{"field":"x","type":"quantitative","scale":{"domain":[0,1.7],"nice":false,"zero":false},
     "axis":{"orient":"bottom","values":[0.5,1,1.5],"labels":false,"title":null,"tickSize":-12}},
    "y":{"field":"nh","type":"quantitative","scale":{"domain":[0,9.8],"nice":false,"zero":false},
     "axis":{"orient":"left","values":[2,4,6,8],"title":null,"labels":false,"tickSize":-12}},
    "y2":{"field":"nl"}}},
  {"data":{"name":"c"},"transform":[{"filter":"datum.e == '3.4000'"}],
   "mark":{"type":"area","interpolate":"monotone","clip":true,"stroke":"#22cc22","strokeWidth":1,"fill":"#7be37b"},
   "encoding":{"x":{"field":"x","type":"quantitative","scale":{"domain":[0,1.7],"nice":false,"zero":false},
     "axis":{"orient":"bottom","values":[0.1,0.2,0.3,0.4,0.6,0.7,0.8,0.9,1.1,1.2,1.3,1.4,1.6],"labels":false,"title":null,"tickSize":-6,"domain":false}},
    "y":{"field":"mh","type":"quantitative","scale":{"domain":[0,9.8],"nice":false,"zero":false},
     "axis":{"orient":"left","values":[0.5,1,1.5,2.5,3,3.5,4.5,5,5.5,6.5,7,7.5,8.5,9,9.5],"labels":false,"title":null,"tickSize":-6,"domain":false}},"y2":{"field":"ml"}}},
  {"data":{"name":"c"},"transform":[{"filter":"datum.e == '3.4000'"}],
   "mark":{"type":"line","interpolate":"monotone","clip":true,"strokeWidth":4,"color":"#ff00ff"},
   "encoding":{"x":{"field":"x","type":"quantitative","scale":{"domain":[0,1.7],"nice":false,"zero":false},"axis":null},
    "y":{"field":"r","type":"quantitative","scale":{"domain":[0,9.8],"nice":false,"zero":false},"axis":null}}},
  {"data":{"name":"c"},"transform":[{"filter":"datum.e == '3.4000'"}],
   "mark":{"type":"line","interpolate":"monotone","clip":true,"strokeWidth":3.5,"strokeDash":[4,4],"color":"#0000ff"},
   "encoding":{"x":{"field":"x","type":"quantitative","scale":{"domain":[0,1.7],"nice":false,"zero":false},"axis":null},
    "y":{"field":"a","type":"quantitative","scale":{"domain":[0,9.8],"nice":false,"zero":false},"axis":null}}},
  {"data":{"name":"c"},"transform":[{"filter":"datum.e == '3.4000'"}],
   "mark":{"type":"line","interpolate":"monotone","clip":true,"strokeWidth":7,"strokeDash":[10,7],"color":"#ffa04d"},
   "encoding":{"x":{"field":"x","type":"quantitative","scale":{"domain":[0,1.7],"nice":false,"zero":false},"axis":null},
    "y":{"field":"d","type":"quantitative","scale":{"domain":[0,9.8],"nice":false,"zero":false},"axis":null}}},
  {"data":{"name":"d"},"transform":[{"filter":"datum.e == '3.4000'"}],
   "mark":{"type":"rule","color":"black","strokeWidth":2.5},
   "encoding":{"x":{"field":"xl","type":"quantitative","scale":{"domain":[0,1.7],"nice":false,"zero":false},"axis":null},"x2":{"field":"xh"},
    "y":{"field":"y","type":"quantitative","scale":{"domain":[0,9.8],"nice":false,"zero":false},"axis":null}}},
  {"data":{"name":"d"},"transform":[{"filter":"datum.e == '3.4000'"}],
   "mark":{"type":"rule","color":"black","strokeWidth":2.5},
   "encoding":{"x":{"field":"x","type":"quantitative","scale":{"domain":[0,1.7],"nice":false,"zero":false},"axis":null},
    "y":{"field":"yl","type":"quantitative","scale":{"domain":[0,9.8],"nice":false,"zero":false},"axis":null},"y2":{"field":"yh"}}},
  {"data":{"name":"d"},"transform":[{"filter":"datum.e == '3.4000'"}],
   "mark":{"type":"circle","size":45,"color":"black","opacity":1},
   "encoding":{"x":{"field":"x","type":"quantitative","scale":{"domain":[0,1.7],"nice":false,"zero":false},"axis":null},
    "y":{"field":"y","type":"quantitative","scale":{"domain":[0,9.8],"nice":false,"zero":false},"axis":null}}},
  {"data":{"values":[{"t":"√s = 3.4000 GeV"}]},
   "mark":{"type":"text","align":"right","baseline":"middle","fontSize":22,"font":"Liberation Sans","color":"black"},
   "encoding":{"text":{"field":"t"},"x":{"datum":1.6,"type":"quantitative","scale":{"domain":[0,1.7],"nice":false,"zero":false},"axis":null},
    "y":{"datum":7.99,"type":"quantitative","scale":{"domain":[0,9.8],"nice":false,"zero":false},"axis":null}}}
 ]
},
{
 "width": 351, "height": 265,
 "resolve": {"axis": {"x": "independent", "y": "independent"}},
 "layer": [
  {"data":{"name":"c"},"transform":[{"filter":"datum.e == '2.8000'"}],
   "mark":{"type":"area","interpolate":"monotone","clip":true,"stroke":"#ff0000","strokeWidth":1,"fill":"#ff0000"},
   "encoding":{
    "x":{"field":"x","type":"quantitative","scale":{"domain":[0,1.35],"nice":false,"zero":false},
     "axis":{"orient":"bottom","values":[0.5,1],"tickSize":-12,"format":".1f","labelPadding":16,
      "title":"pπ⁰ (GeV/c)","titleFontSize":30,"titleFont":"Liberation Sans","titleFontWeight":"normal","titleX":357,"titleY":59,"titleAlign":"center","titleBaseline":"alphabetic"}},
    "y":{"field":"nh","type":"quantitative","scale":{"domain":[0,9.8],"nice":false,"zero":false},
     "axis":{"orient":"left","values":[2,4,6,8],"title":null,"tickSize":-12,"format":"d","labelPadding":18}},
    "y2":{"field":"nl"}}},
  {"data":{"name":"c"},"transform":[{"filter":"datum.e == '2.8000'"}],
   "mark":{"type":"area","interpolate":"monotone","clip":true,"stroke":"#22cc22","strokeWidth":1,"fill":"#7be37b"},
   "encoding":{"x":{"field":"x","type":"quantitative","scale":{"domain":[0,1.35],"nice":false,"zero":false},
     "axis":{"orient":"bottom","values":[0.1,0.2,0.3,0.4,0.6,0.7,0.8,0.9,1.1,1.2,1.3],"labels":false,"title":null,"tickSize":-6,"domain":false}},
    "y":{"field":"mh","type":"quantitative","scale":{"domain":[0,9.8],"nice":false,"zero":false},
     "axis":{"orient":"left","values":[0.5,1,1.5,2.5,3,3.5,4.5,5,5.5,6.5,7,7.5,8.5,9,9.5],"labels":false,"title":null,"tickSize":-6,"domain":false}},"y2":{"field":"ml"}}},
  {"data":{"name":"c"},"transform":[{"filter":"datum.e == '2.8000'"}],
   "mark":{"type":"line","interpolate":"monotone","clip":true,"strokeWidth":4,"color":"#ff00ff"},
   "encoding":{"x":{"field":"x","type":"quantitative","scale":{"domain":[0,1.35],"nice":false,"zero":false},"axis":null},
    "y":{"field":"r","type":"quantitative","scale":{"domain":[0,9.8],"nice":false,"zero":false},"axis":null}}},
  {"data":{"name":"c"},"transform":[{"filter":"datum.e == '2.8000'"}],
   "mark":{"type":"line","interpolate":"monotone","clip":true,"strokeWidth":3.5,"strokeDash":[4,4],"color":"#0000ff"},
   "encoding":{"x":{"field":"x","type":"quantitative","scale":{"domain":[0,1.35],"nice":false,"zero":false},"axis":null},
    "y":{"field":"a","type":"quantitative","scale":{"domain":[0,9.8],"nice":false,"zero":false},"axis":null}}},
  {"data":{"name":"c"},"transform":[{"filter":"datum.e == '2.8000'"}],
   "mark":{"type":"line","interpolate":"monotone","clip":true,"strokeWidth":7,"strokeDash":[10,7],"color":"#ffa04d"},
   "encoding":{"x":{"field":"x","type":"quantitative","scale":{"domain":[0,1.35],"nice":false,"zero":false},"axis":null},
    "y":{"field":"d","type":"quantitative","scale":{"domain":[0,9.8],"nice":false,"zero":false},"axis":null}}},
  {"data":{"name":"d"},"transform":[{"filter":"datum.e == '2.8000'"}],
   "mark":{"type":"rule","color":"black","strokeWidth":2.5},
   "encoding":{"x":{"field":"xl","type":"quantitative","scale":{"domain":[0,1.35],"nice":false,"zero":false},"axis":null},"x2":{"field":"xh"},
    "y":{"field":"y","type":"quantitative","scale":{"domain":[0,9.8],"nice":false,"zero":false},"axis":null}}},
  {"data":{"name":"d"},"transform":[{"filter":"datum.e == '2.8000'"}],
   "mark":{"type":"rule","color":"black","strokeWidth":2.5},
   "encoding":{"x":{"field":"x","type":"quantitative","scale":{"domain":[0,1.35],"nice":false,"zero":false},"axis":null},
    "y":{"field":"yl","type":"quantitative","scale":{"domain":[0,9.8],"nice":false,"zero":false},"axis":null},"y2":{"field":"yh"}}},
  {"data":{"name":"d"},"transform":[{"filter":"datum.e == '2.8000'"}],
   "mark":{"type":"circle","size":45,"color":"black","opacity":1},
   "encoding":{"x":{"field":"x","type":"quantitative","scale":{"domain":[0,1.35],"nice":false,"zero":false},"axis":null},
    "y":{"field":"y","type":"quantitative","scale":{"domain":[0,9.8],"nice":false,"zero":false},"axis":null}}},
  {"data":{"values":[{"t":"√s = 2.8000 GeV"}]},
   "mark":{"type":"text","align":"right","baseline":"middle","fontSize":22,"font":"Liberation Sans","color":"black"},
   "encoding":{"text":{"field":"t"},"x":{"datum":1.2,"type":"quantitative","scale":{"domain":[0,1.35],"nice":false,"zero":false},"axis":null},
    "y":{"datum":7.77,"type":"quantitative","scale":{"domain":[0,9.8],"nice":false,"zero":false},"axis":null}}}
 ]
},
{
 "width": 340, "height": 265,
 "resolve": {"axis": {"x": "independent", "y": "independent"}},
 "layer": [
  {"data":{"name":"c"},"transform":[{"filter":"datum.e == '3.6710'"}],
   "mark":{"type":"area","interpolate":"monotone","clip":true,"stroke":"#ff0000","strokeWidth":1,"fill":"#ff0000"},
   "encoding":{
    "x":{"field":"x","type":"quantitative","scale":{"domain":[0,1.7],"nice":false,"zero":false},
     "axis":{"orient":"bottom","values":[0.5,1,1.5],"tickSize":-12,"format":".1f","labelPadding":16,
      "title":"PRL 1","titleFontSize":44,"titleFont":"Liberation Serif","titleFontWeight":"bold","titleColor":"#ff0000","titleX":215,"titleY":72,"titleAlign":"left","titleBaseline":"alphabetic"}},
    "y":{"field":"nh","type":"quantitative","scale":{"domain":[0,9.8],"nice":false,"zero":false},
     "axis":{"orient":"left","values":[2,4,6,8],"title":null,"labels":false,"tickSize":-12}},
    "y2":{"field":"nl"}}},
  {"data":{"name":"c"},"transform":[{"filter":"datum.e == '3.6710'"}],
   "mark":{"type":"area","interpolate":"monotone","clip":true,"stroke":"#22cc22","strokeWidth":1,"fill":"#7be37b"},
   "encoding":{"x":{"field":"x","type":"quantitative","scale":{"domain":[0,1.7],"nice":false,"zero":false},
     "axis":{"orient":"bottom","values":[0.1,0.2,0.3,0.4,0.6,0.7,0.8,0.9,1.1,1.2,1.3,1.4,1.6],"labels":false,"title":null,"tickSize":-6,"domain":false}},
    "y":{"field":"mh","type":"quantitative","scale":{"domain":[0,9.8],"nice":false,"zero":false},
     "axis":{"orient":"left","values":[0.5,1,1.5,2.5,3,3.5,4.5,5,5.5,6.5,7,7.5,8.5,9,9.5],"labels":false,"title":null,"tickSize":-6,"domain":false}},"y2":{"field":"ml"}}},
  {"data":{"name":"c"},"transform":[{"filter":"datum.e == '3.6710'"}],
   "mark":{"type":"line","interpolate":"monotone","clip":true,"strokeWidth":4,"color":"#ff00ff"},
   "encoding":{"x":{"field":"x","type":"quantitative","scale":{"domain":[0,1.7],"nice":false,"zero":false},"axis":null},
    "y":{"field":"r","type":"quantitative","scale":{"domain":[0,9.8],"nice":false,"zero":false},"axis":null}}},
  {"data":{"name":"c"},"transform":[{"filter":"datum.e == '3.6710'"}],
   "mark":{"type":"line","interpolate":"monotone","clip":true,"strokeWidth":3.5,"strokeDash":[4,4],"color":"#0000ff"},
   "encoding":{"x":{"field":"x","type":"quantitative","scale":{"domain":[0,1.7],"nice":false,"zero":false},"axis":null},
    "y":{"field":"a","type":"quantitative","scale":{"domain":[0,9.8],"nice":false,"zero":false},"axis":null}}},
  {"data":{"name":"c"},"transform":[{"filter":"datum.e == '3.6710'"}],
   "mark":{"type":"line","interpolate":"monotone","clip":true,"strokeWidth":7,"strokeDash":[10,7],"color":"#ffa04d"},
   "encoding":{"x":{"field":"x","type":"quantitative","scale":{"domain":[0,1.7],"nice":false,"zero":false},"axis":null},
    "y":{"field":"d","type":"quantitative","scale":{"domain":[0,9.8],"nice":false,"zero":false},"axis":null}}},
  {"data":{"name":"d"},"transform":[{"filter":"datum.e == '3.6710'"}],
   "mark":{"type":"rule","color":"black","strokeWidth":2.5},
   "encoding":{"x":{"field":"xl","type":"quantitative","scale":{"domain":[0,1.7],"nice":false,"zero":false},"axis":null},"x2":{"field":"xh"},
    "y":{"field":"y","type":"quantitative","scale":{"domain":[0,9.8],"nice":false,"zero":false},"axis":null}}},
  {"data":{"name":"d"},"transform":[{"filter":"datum.e == '3.6710'"}],
   "mark":{"type":"rule","color":"black","strokeWidth":2.5},
   "encoding":{"x":{"field":"x","type":"quantitative","scale":{"domain":[0,1.7],"nice":false,"zero":false},"axis":null},
    "y":{"field":"yl","type":"quantitative","scale":{"domain":[0,9.8],"nice":false,"zero":false},"axis":null},"y2":{"field":"yh"}}},
  {"data":{"name":"d"},"transform":[{"filter":"datum.e == '3.6710'"}],
   "mark":{"type":"circle","size":45,"color":"black","opacity":1},
   "encoding":{"x":{"field":"x","type":"quantitative","scale":{"domain":[0,1.7],"nice":false,"zero":false},"axis":null},
    "y":{"field":"y","type":"quantitative","scale":{"domain":[0,9.8],"nice":false,"zero":false},"axis":null}}},
  {"data":{"values":[{"t":"√s = 3.6710 GeV"}]},
   "mark":{"type":"text","align":"right","baseline":"middle","fontSize":22,"font":"Liberation Sans","color":"black"},
   "encoding":{"text":{"field":"t"},"x":{"datum":1.6,"type":"quantitative","scale":{"domain":[0,1.7],"nice":false,"zero":false},"axis":null},
    "y":{"datum":7.8,"type":"quantitative","scale":{"domain":[0,9.8],"nice":false,"zero":false},"axis":null}}}
 ]
}
],
"config": {
 "view": {"stroke": null},
 "axis": {"domainColor":"black","domainWidth":2,"tickColor":"black","tickWidth":1.5,"grid":false,
  "labelFont":"Liberation Sans","labelFontSize":30,"labelColor":"black","labelOverlap":false,"labelFlush":false,
  "titleFont":"Liberation Sans","titleColor":"black","titleFontWeight":"normal"},
 "text": {"font": "Liberation Sans"}
}
}
